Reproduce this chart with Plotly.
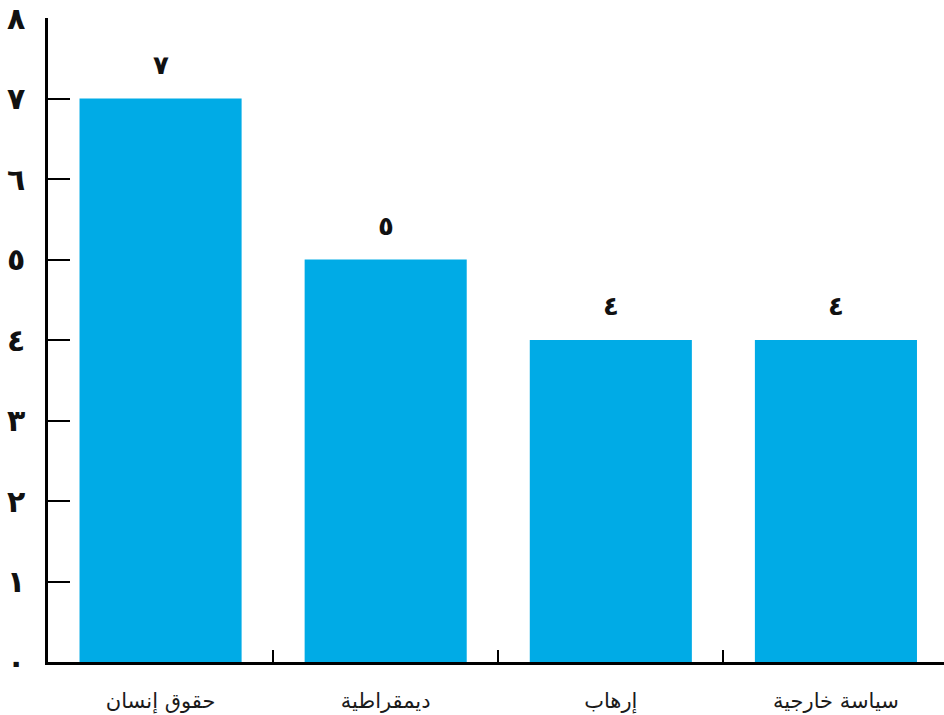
import plotly.graph_objects as go

categories = ["حقوق إنسان", "ديمقراطية", "إرهاب", "سياسة خارجية"]
values = [7, 5, 4, 4]
y_ticks = [0, 1, 2, 3, 4, 5, 6, 7, 8]

AR_DIGITS = "٠١٢٣٤٥٦٧٨٩"


def to_arabic(n):
    return "".join(AR_DIGITS[int(d)] for d in str(n))


bar_color = "#00ABE6"
num_font = dict(family="DejaVu Sans", size=30, color="#111111")

fig = go.Figure()
fig.add_trace(go.Bar(
    x=categories,
    y=values,
    marker=dict(color=bar_color, line=dict(width=0)),
    hoverinfo="skip",
))

for c, v in zip(categories, values):
    fig.add_annotation(
        x=c, y=v, text="<b>" + to_arabic(v) + "</b>",
        showarrow=False, yanchor="bottom", yshift=17,
        font=dict(family="DejaVu Sans", size=26, color="#111111"),
    )

fig.update_layout(
    width=944, height=715,
    margin=dict(l=48, r=0, t=18, b=53),
    paper_bgcolor="white", plot_bgcolor="white",
    bargap=0.28,
    showlegend=False,
    xaxis=dict(
        range=[-0.5, 3.48],
        showline=True, linecolor="black", linewidth=2.5,
        ticks="inside", tickson="boundaries", ticklen=12, tickwidth=2, tickcolor="black",
        tickfont=dict(family="DejaVu Sans", size=21, color="#1a1a1a"),
        ticklabelstandoff=18,
        showgrid=False, zeroline=False,
    ),
    yaxis=dict(
        range=[0, 8],
        tickvals=y_ticks,
        ticktext=["<b>" + to_arabic(t) + "</b>" for t in y_ticks],
        showline=True, linecolor="black", linewidth=2.5,
        ticks="inside", ticklen=22, tickwidth=2, tickcolor="black",
        tickfont=num_font,
        ticklabelstandoff=14,
        showgrid=False, zeroline=False,
    ),
)

fig.write_html("out.html")
